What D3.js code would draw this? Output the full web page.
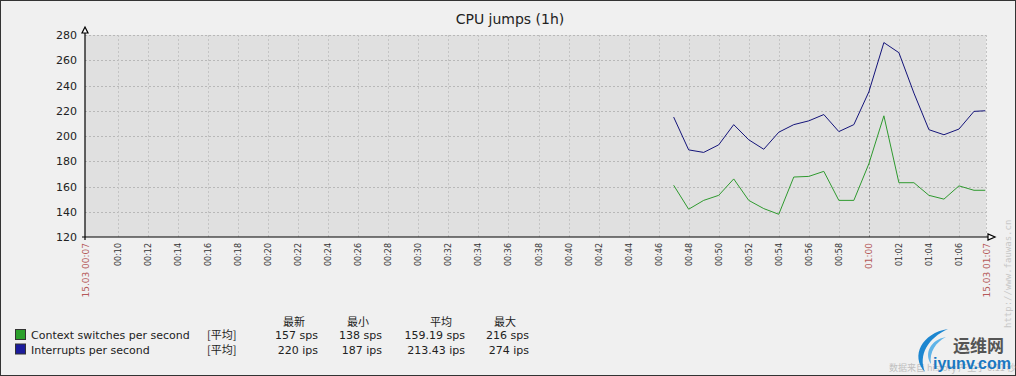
<!DOCTYPE html>
<html>
<head>
<meta charset="utf-8">
<script src="https://cdn.jsdelivr.net/npm/d3@7"></script>
<style>
  body { margin: 0; background: #fff; }
  svg { display: block; font-family: "DejaVu Sans", sans-serif; }
</style>
</head>
<body>
<div id="chart"></div>
<script>
// values, one point per minute
const times = ["00:47","00:48","00:49","00:50","00:51","00:52","00:53","00:54","00:55","00:56","00:57",
               "00:58","00:59","01:00","01:01","01:02","01:03","01:04","01:05","01:06","01:07","01:07:45"];
const contextSwitches = [161,142,149,153,166,149,142.5,138,167.5,168,172,149,149,178,216,163,163,153,150,160.5,157,157];
const interrupts = [215,189,187,193,209,197,189.5,203,209,212,217,203.5,209,235,274,266,234,205,201,205.5,219.5,220];

const yTicks = [120,140,160,180,200,220,240,260,280];
const timeStart = "00:07:48", timeEnd = "01:07:48";
const majorLabels = ["15.03 00:07","01:00","15.03 01:07"];

const legendHeaders = ["最新","最小","平均","最大"];
const legendRows = [
  {name: "Context switches per second", color: "#2ca02c", line: "#2f9a2f", stats: ["157 sps","138 sps","159.19 sps","216 sps"]},
  {name: "Interrupts per second", color: "#1c1c9c", line: "#14147a", stats: ["220 ips","187 ips","213.43 ips","274 ips"]}
];

const W = 1016, H = 376;
const conf = {left: 85, right: 986, top: 35, bottom: 237};

function toDate(s) {
  let p = s.split(":").map(Number);
  return new Date(2015, 2, 15, p[0], p[1], p[2] || 0);
}

const svg = d3.select("#chart").append("svg")
  .attr("width", W).attr("height", H);

svg.append("rect").attr("x", 0.5).attr("y", 0.5).attr("width", W - 1).attr("height", H - 1)
  .attr("fill", "#f0f0f0").attr("stroke", "#333").attr("stroke-width", 1);

svg.append("text").attr("x", 510).attr("y", 24).attr("text-anchor", "middle")
  .style("font-size", "14px").attr("fill", "#222").text("CPU jumps (1h)");

const x = d3.scaleTime().domain([toDate(timeStart), toDate(timeEnd)]).range([conf.left, conf.right]);
const y = d3.scaleLinear().domain([120, 280]).range([conf.bottom, conf.top]);

// plot background
svg.append("rect").attr("x", conf.left).attr("y", conf.top)
  .attr("width", conf.right - conf.left).attr("height", conf.bottom - conf.top)
  .attr("fill", "#e0e0e0");

// grid
const grid = svg.append("g").attr("stroke-dasharray", "2,2").attr("stroke-width", 1);
grid.selectAll("line.h").data(yTicks.slice(1)).enter().append("line")
  .attr("x1", conf.left).attr("x2", conf.right)
  .attr("y1", d => Math.round(y(d)) + 0.5).attr("y2", d => Math.round(y(d)) + 0.5)
  .attr("stroke", "#b8b8b8");

// 2-minute ticks, skipping the one that sits right on the start label
const xTicks = x.ticks(d3.timeMinute.every(2)).filter(d => x(d) - conf.left > 15);
grid.selectAll("line.v").data(xTicks.concat([x.domain()[1]])).enter().append("line")
  .attr("x1", d => Math.round(x(d)) + 0.5).attr("x2", d => Math.round(x(d)) + 0.5)
  .attr("y1", conf.top).attr("y2", conf.bottom)
  .attr("stroke", d => d3.timeFormat("%H:%M")(d) == "01:00" ? "#999" : "#c4c4c4");

// series
const line = d3.line().x(d => x(d.t)).y(d => y(d.v));
legendRows.forEach((row, k) => {
  let vals = k == 0 ? contextSwitches : interrupts;
  let pts = times.map((t, i) => ({t: toDate(t), v: vals[i]}));
  svg.append("path").datum(pts).attr("d", line)
    .attr("fill", "none").attr("stroke", row.line).attr("stroke-width", 1);
});

// axes
const axis = svg.append("g").attr("stroke", "#000").attr("stroke-width", 1.2);
axis.append("line").attr("x1", conf.left).attr("x2", conf.left).attr("y1", 32).attr("y2", conf.bottom + 3);
axis.append("line").attr("x1", conf.left - 3).attr("x2", 989).attr("y1", conf.bottom).attr("y2", conf.bottom);
axis.append("path").attr("d", `M${conf.left - 3},33 L${conf.left + 3},33 L${conf.left},27 Z`).attr("fill", "#fff");
axis.append("path").attr("d", `M988,234 L988,240 L995,237 Z`).attr("fill", "#fff");

svg.append("g").selectAll("text").data(yTicks).enter().append("text")
  .attr("x", 77).attr("y", d => y(d) + 4).attr("text-anchor", "end")
  .style("font-size", "11px").attr("fill", "#222").text(d => d);

// x labels, rotated
let labels = xTicks.map(d => ({t: d, s: d3.timeFormat("%H:%M")(d)}));
labels.forEach(l => { if (l.s == "01:00") l.major = true; });
labels.push({t: x.domain()[0], s: majorLabels[0], major: true});
labels.push({t: x.domain()[1], s: majorLabels[2], major: true});

svg.append("g").selectAll("text").data(labels).enter().append("text")
  .attr("transform", d => `translate(${x(d.t) + (d.major ? 3.5 : 3)},243) rotate(-90)`)
  .attr("text-anchor", "end")
  .style("font-size", d => d.major ? "9px" : "8px")
  .attr("fill", d => d.major ? "#b55a5a" : "#333")
  .text(d => d.s);

// legend
const lg = svg.append("g").style("font-size", "11px").attr("fill", "#222");
const colRight = [318, 382, 465, 529];
lg.selectAll("text.hd").data(legendHeaders).enter().append("text")
  .attr("x", (d, i) => colRight[i] - 13).attr("y", 326).attr("text-anchor", "end")
  .style("font-family", "'Noto Sans CJK SC', sans-serif").text(d => d);

legendRows.forEach((row, k) => {
  let yy = 339 + k * 14.5;
  lg.append("rect").attr("x", 15.5).attr("y", yy - 9.5).attr("width", 10).attr("height", 10)
    .attr("fill", row.color).attr("stroke", "#333").attr("stroke-width", 1);
  lg.append("text").attr("x", 31).attr("y", yy).text(row.name);
  lg.append("text").attr("x", 207).attr("y", yy)
    .style("font-family", "'Noto Sans CJK SC', sans-serif").text("[平均]");
  lg.selectAll(null).data(row.stats).enter().append("text")
    .attr("x", (d, i) => colRight[i]).attr("y", yy).attr("text-anchor", "end").text(d => d);
});

// watermarks
svg.append("text").attr("transform", "translate(1011,328) rotate(-90)")
  .style("font-size", "9px").style("font-family", "'DejaVu Sans Mono', monospace")
  .attr("fill", "#c8c8c8").text("http://www.fauwas.cn");
svg.append("text").attr("x", 889).attr("y", 371)
  .style("font-size", "9px").style("font-family", "'Noto Sans CJK SC', sans-serif")
  .attr("fill", "#c0c0c0").text("数据来自 history 产生于 0.11 秒");

const logo = svg.append("g");
logo.append("path").attr("d", "M948,329 C922,333 910,356 925,372 C918,355 928,338 948,329 Z").attr("fill", "#1c86d0");
logo.append("path").attr("d", "M946,337 C930,340 924,354 931,364 C929,352 936,342 946,337 Z").attr("fill", "#5fb4e8");
logo.append("text").attr("x", 953).attr("y", 352).style("font-size", "17px").style("font-weight", "bold")
  .style("font-family", "'Noto Sans CJK SC', sans-serif").attr("fill", "#555").text("运维网");
logo.append("text").attr("x", 933).attr("y", 369).style("font-size", "16px").style("font-weight", "bold")
  .style("font-family", "'Liberation Sans', Arial, sans-serif")
  .attr("fill", "#1a78c2").text("iyunv.com");
</script>
</body>
</html>
